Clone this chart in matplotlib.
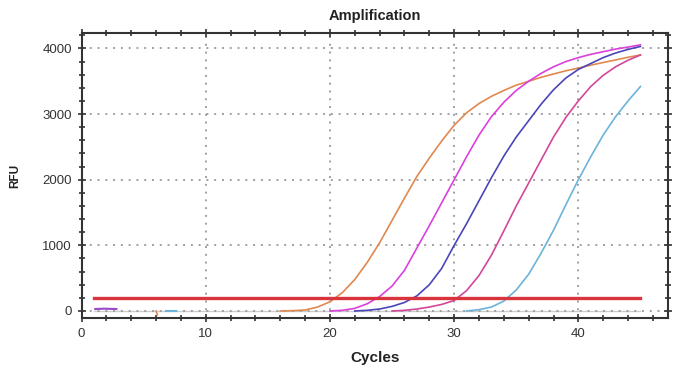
import matplotlib
matplotlib.use("Agg")
import matplotlib.pyplot as plt
from matplotlib.ticker import MultipleLocator

plt.rcParams['font.family'] = ['Liberation Sans', 'DejaVu Sans']

# ---- data ----
orange_x = list(range(16, 46))
orange_y = [0, 5, 15, 60, 140, 280, 480, 740, 1040, 1380, 1720, 2050, 2330, 2590,
            2830, 3020, 3160, 3270, 3360, 3440, 3500, 3560, 3610, 3660, 3700, 3745,
            3785, 3825, 3865, 3900]

magenta_x = list(range(20, 46))
magenta_y = [0, 10, 40, 110, 220, 380, 620, 960, 1300, 1650, 2000, 2350, 2680, 2960,
             3180, 3360, 3500, 3620, 3720, 3800, 3860, 3910, 3950, 3990, 4020, 4055]

blue_x = list(range(22, 46))
blue_y = [0, 10, 30, 70, 130, 230, 400, 650, 1000, 1330, 1680, 2030, 2360, 2650,
          2900, 3150, 3370, 3550, 3680, 3770, 3860, 3930, 3985, 4030]

pink_x = list(range(25, 46))
pink_y = [0, 10, 30, 60, 100, 160, 310, 540, 850, 1220, 1600, 1950, 2300, 2650,
          2950, 3200, 3420, 3590, 3720, 3820, 3900]

ltblue_x = list(range(31, 46))
ltblue_y = [0, 20, 60, 150, 320, 560, 880, 1230, 1620, 2000, 2350, 2680, 2960, 3200, 3420]

frag1_x = [1.1, 1.8, 2.8]
frag1_y = [30, 35, 30]
frag2_x = [6.0, 6.1]
frag2_y = [0, -60]
frag3_x = [6.8, 7.6]
frag3_y = [5, 5]

threshold_x = [1, 45]
threshold_y = [200, 200]

fig = plt.figure(figsize=(6.8, 3.7), dpi=100)
ax = fig.add_axes([0.12, 0.14, 0.862, 0.771])

ax.plot([1, 45], [0, 0], color='#cccccc', lw=1.0, zorder=1)
ax.plot(orange_x, orange_y, color='#E0884F', lw=1.2, zorder=3)
ax.plot(magenta_x, magenta_y, color='#DD3FDD', lw=1.2, zorder=3)
ax.plot(blue_x, blue_y, color='#4B46B8', lw=1.2, zorder=3)
ax.plot(pink_x, pink_y, color='#D2479A', lw=1.2, zorder=3)
ax.plot(ltblue_x, ltblue_y, color='#6BB3DA', lw=1.2, zorder=3)
ax.plot(frag1_x, frag1_y, color='#9A48C8', lw=1.5, zorder=3)
ax.plot(frag2_x, frag2_y, color='#E0884F', lw=1.2, zorder=3)
ax.plot(frag3_x, frag3_y, color='#6BB3DA', lw=1.5, zorder=3)
ax.plot(threshold_x, threshold_y, color='#D9343C', lw=2.4, zorder=4)

ax.set_xlim(0, 47.2)
ax.set_ylim(-110, 4236)
ax.xaxis.set_major_locator(MultipleLocator(10))
ax.xaxis.set_minor_locator(MultipleLocator(2))
ax.yaxis.set_major_locator(MultipleLocator(1000))
ax.yaxis.set_minor_locator(MultipleLocator(200))
ax.tick_params(which='both', direction='inout', top=True, right=True,
               color='#333333', width=1.2)
ax.tick_params(which='major', length=6, labelsize=9.5, labelcolor='#333333', pad=4)
ax.tick_params(which='minor', length=4)
ax.tick_params(axis='x', which='both', labeltop=False)
ax.tick_params(axis='y', which='both', labelright=False)

ax.grid(True, which='major', linestyle=(0, (1, 3)), color='#a0a0a0', lw=1.4)
for s in ax.spines.values():
    s.set_color('#333333')
    s.set_linewidth(1.5)

ax.set_title('Amplification', fontsize=10.5, fontweight='bold', color='#222222', pad=9)
ax.set_xlabel('Cycles', fontsize=11, fontweight='bold', color='#222222', labelpad=8)
ax.set_ylabel('RFU', fontsize=8.5, fontweight='bold', color='#222222', labelpad=15)

fig.savefig('out.png', dpi=100)
